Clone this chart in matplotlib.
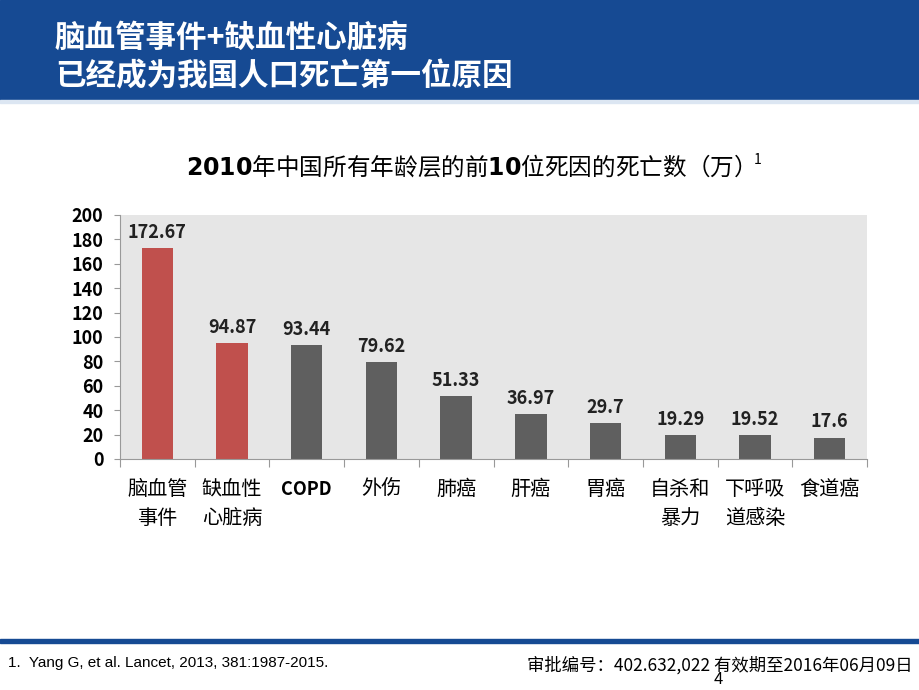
import numpy as np
import matplotlib.pyplot as plt
from matplotlib.patches import Rectangle

plt.rcParams['font.family'] = ['Noto Sans CJK SC', 'DejaVu Sans']

# === DATA ===
causes = ["脑血管\n事件", "缺血性\n心脏病", "COPD", "外伤", "肺癌",
          "肝癌", "胃癌", "自杀和\n暴力", "下呼吸\n道感染", "食道癌"]
deaths = [172.67, 94.87, 93.44, 79.62, 51.33, 36.97, 29.7, 19.29, 19.52, 17.6]
value_labels = ["172.67", "94.87", "93.44", "79.62", "51.33",
                "36.97", "29.7", "19.29", "19.52", "17.6"]
highlight = [True, True, False, False, False, False, False, False, False, False]
yticks = [0, 20, 40, 60, 80, 100, 120, 140, 160, 180, 200]

RED = "#c0504d"
GRAY = "#5f5f5f"
BLUE = "#164a93"

fig = plt.figure(figsize=(9.2, 6.9), dpi=100)

# --- header band ---
fig.patches.append(Rectangle((0, 1 - 100 / 690), 1, 100 / 690,
                             transform=fig.transFigure, color=BLUE, zorder=0))
fig.patches.append(Rectangle((0, 1 - 103 / 690), 1, 3 / 690,
                             transform=fig.transFigure, color="#dce6f2", zorder=0))
fig.text(55 / 920, 1 - 38 / 690, "脑血管事件+缺血性心脏病", color="white",
         fontsize=22, fontweight="bold", va="center")
fig.text(55 / 920, 1 - 76 / 690, "已经成为我国人口死亡第一位原因", color="white",
         fontsize=22, fontweight="bold", va="center")

# --- footer ---
fig.patches.append(Rectangle((0, 1 - 643 / 690), 1, 4 / 690,
                             transform=fig.transFigure, color=BLUE, zorder=0))
fig.text(8 / 920, 1 - 663 / 690, "1.  Yang G, et al. Lancet, 2013, 381:1987-2015.",
         fontsize=11, va="center", family=["Liberation Sans Narrow", "Liberation Sans"])
fig.text(527 / 920, 1 - 665 / 690, "审批编号：402.632,022 有效期至2016年06月09日",
         fontsize=12.5, va="center")
fig.text(718 / 920, 1 - 679 / 690, "4", fontsize=12, va="center", ha="center")

# --- chart title ---
fig.text(464 / 920, 1 - 166 / 690,
         r"$\mathbf{2010}$年中国所有年龄层的前$\mathbf{10}$位死因的死亡数（万）",
         fontsize=17, ha="center", va="center")
fig.text(754 / 920, 1 - 160 / 690, "1", fontsize=10, ha="left", va="center")

# --- bar chart ---
ax = fig.add_axes([120 / 920, 1 - 459 / 690, 747 / 920, 244 / 690])
ax.set_facecolor("#e6e6e6")
x = np.arange(len(causes))
colors = [RED if h else GRAY for h in highlight]
ax.bar(x, deaths, width=0.42, color=colors, zorder=2)
for xi, v, lab in zip(x, deaths, value_labels):
    ax.text(xi, v + 5, lab, ha="center", va="bottom", fontsize=13,
            fontweight="bold", color="#222222")

ax.set_xlim(-0.5, len(causes) - 0.5)
ax.set_ylim(0, 200)
ax.set_yticks(yticks)
ax.set_yticklabels([str(t) for t in yticks], fontsize=13, fontweight="bold")
ax.set_xticks(np.arange(len(causes) + 1) - 0.5, minor=False)
ax.set_xticklabels([])
ax.tick_params(axis="x", length=6, color="#999999", direction="out")
ax.tick_params(axis="y", length=4, color="#999999", direction="out", pad=8)
for xi, lab in zip(x, causes):
    kw = dict(fontsize=14.5, ha="center", va="top")
    if lab == "COPD":
        kw.update(fontweight="bold", fontsize=13)
        ax.text(xi, -17, lab, **kw)
    else:
        ax.text(xi, -16, lab, linespacing=1.55, **kw)

for s in ["top", "right"]:
    ax.spines[s].set_visible(False)
for s in ["left", "bottom"]:
    ax.spines[s].set_color("#999999")

fig.savefig("out.png", dpi=100)
